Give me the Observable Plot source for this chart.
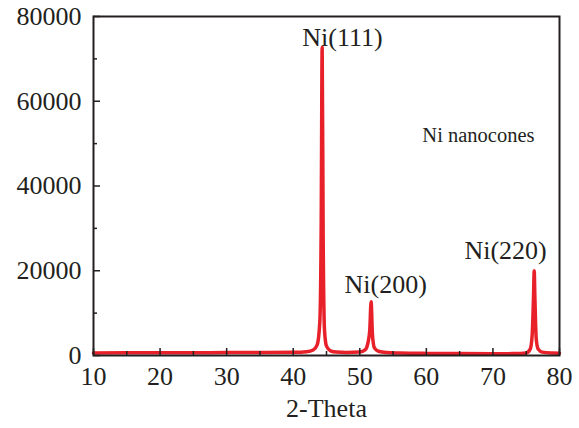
<!DOCTYPE html>
<html><head><meta charset="utf-8">
<script src="https://cdn.jsdelivr.net/npm/d3@7"></script>
<script src="https://cdn.jsdelivr.net/npm/@observablehq/plot@0.6"></script>
<style>body{margin:0;background:#fff}</style>
</head><body><div id="chart"></div>
<script>
const theta = [10, 15, 20, 25, 30, 35, 40, 42, 43, 43.6, 44.0, 44.2, 44.35, 44.5, 44.7, 45.0, 45.6, 46.5, 48, 50, 50.8, 51.2, 51.5, 51.7, 51.9, 52.2, 52.8, 54, 56, 60, 65, 70, 73, 75, 75.6, 75.9, 76.1, 76.2, 76.3, 76.5, 76.8, 77.4, 79, 80];
const intensity = [600, 620, 640, 660, 680, 700, 760, 900, 1300, 2500, 8000, 30000, 72700, 28000, 6000, 2200, 1100, 800, 700, 800, 1300, 2800, 6000, 12700, 5000, 1800, 1000, 700, 600, 500, 450, 400, 450, 600, 1500, 5000, 14000, 20000, 14000, 4000, 1500, 800, 600, 550];

const xMajorTicks = [10, 20, 30, 40, 50, 60, 70, 80];
const xMinorTicks = [15, 25, 35, 45, 55, 65, 75];
const yMajorTicks = [0, 20000, 40000, 60000, 80000];
const yMinorTicks = [10000, 30000, 50000, 70000];

const peakLabels = ["Ni(111)", "Ni(200)", "Ni(220)"];
const peakLabelX = [47.4, 53.9, 71.9];
const peakLabelY = [75100, 16600, 24850];
const sampleLabel = ["Ni nanocones"];
const sampleLabelX = [59.4];
const sampleLabelY = [51850];

const xLabel = "2-Theta";

const data = theta.map((t, i) => ({theta: t, intensity: intensity[i]}));
const peaks = peakLabels.map((s, i) => ({s, x: peakLabelX[i], y: peakLabelY[i]}));
const sample = sampleLabel.map((s, i) => ({s, x: sampleLabelX[i], y: sampleLabelY[i]}));

const chart = Plot.plot({
  width: 579,
  height: 428,
  marginLeft: 93,
  marginRight: 20,
  marginTop: 16,
  marginBottom: 73,
  style: {fontFamily: "'Liberation Serif', 'Times New Roman', serif", fontSize: "26px", color: "#231f20", background: "#fff"},
  x: {domain: [10, 80]},
  y: {domain: [0, 80000]},
  marks: [
    Plot.line(data, {x: "theta", y: "intensity", stroke: "#e8202a", strokeWidth: 3.5, strokeLinejoin: "round", curve: "monotone-x"}),
    Plot.frame({stroke: "#231f20", strokeWidth: 2}),
    // inward ticks
    Plot.axisX({ticks: xMajorTicks, anchor: "bottom", tickSize: 7, dy: -7, tickFormat: () => "", label: null, strokeWidth: 1.5}),
    Plot.axisX({ticks: xMinorTicks, anchor: "bottom", tickSize: 4, dy: -4, tickFormat: () => "", label: null, strokeWidth: 1.5}),
    Plot.axisY({ticks: yMajorTicks, anchor: "left", tickSize: 7, dx: 7, tickFormat: () => "", label: null, strokeWidth: 1.5}),
    Plot.axisY({ticks: yMinorTicks, anchor: "left", tickSize: 4, dx: 4, tickFormat: () => "", label: null, strokeWidth: 1.5}),
    // tick labels
    Plot.axisX({ticks: xMajorTicks, anchor: "bottom", tickSize: 0, tickPadding: 11, fontSize: 26, label: null}),
    Plot.axisX({ticks: [], anchor: "bottom", tickSize: 0, fontSize: 26, label: xLabel, labelAnchor: "center", labelArrow: "none", labelOffset: 61}),
    Plot.axisY({ticks: yMajorTicks, anchor: "left", tickSize: 0, tickPadding: 12, fontSize: 26, tickFormat: d => String(d), label: null}),
    Plot.text(peaks, {x: "x", y: "y", text: "s", fontSize: 26, textAnchor: "middle", lineAnchor: "middle", fill: "#231f20"}),
    Plot.text(sample, {x: "x", y: "y", text: "s", fontSize: 20.5, textAnchor: "start", lineAnchor: "middle", fill: "#231f20"})
  ]
});
document.getElementById("chart").appendChild(chart);
</script>
</body></html>
